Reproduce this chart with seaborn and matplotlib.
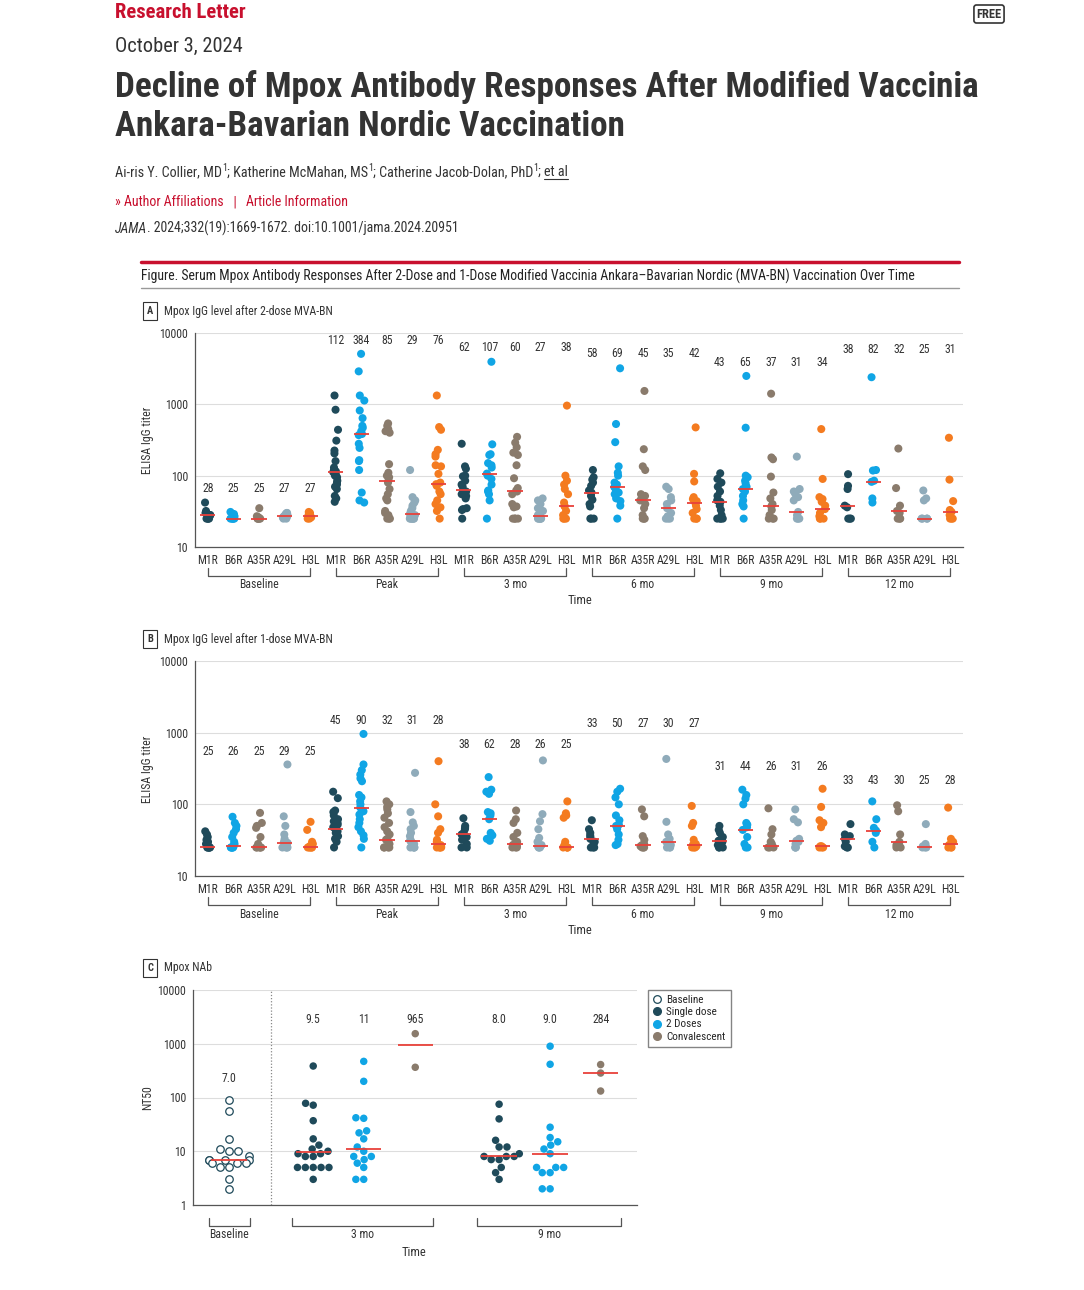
import numpy as np
import pandas as pd
import matplotlib
matplotlib.use("Agg")
import matplotlib.pyplot as plt
import matplotlib.transforms as mtransforms
from matplotlib.lines import Line2D
from matplotlib.ticker import NullLocator
import seaborn as sns

W, H = 1084, 1290
np.random.seed(3)  # only for the small horizontal jitter of the dots

# ---------------- data ----------------
timepoints = ["Baseline", "Peak", "3 mo", "6 mo", "9 mo", "12 mo"]
antigens = ["M1R", "B6R", "A35R", "A29L", "H3L"]
antigen_colors = ["#1f4a5a", "#10a5e5", "#8a7b6c", "#8fabba", "#f47b20"]

# Panel A - 2-dose MVA-BN, ELISA IgG titers (M1R, B6R, A35R, A29L, H3L)
a_baseline = [[25, 25, 25, 25, 28, 28, 30, 32, 42],
              [25, 25, 25, 25, 25, 27, 29, 31],
              [25, 25, 25, 25, 25, 26, 27, 35],
              [25, 25, 26, 27, 27, 28, 29, 30, 30],
              [25, 25, 26, 27, 27, 28, 29, 30, 31]]
a_peak = [[1330, 840, 440, 310, 225, 205, 160, 130, 120, 115, 112, 105, 100, 95, 85, 80, 75, 70, 65, 52, 48, 43],
          [5100, 2900, 1330, 1130, 820, 640, 500, 470, 420, 384, 370, 280, 245, 165, 160, 120, 58, 45, 42],
          [540, 500, 450, 420, 400, 145, 110, 100, 95, 85, 80, 65, 55, 48, 45, 32, 30, 28, 26, 25, 25, 25],
          [120, 50, 45, 42, 38, 35, 32, 30, 29, 28, 27, 26, 25, 25, 25, 25, 25, 25],
          [1330, 480, 440, 230, 200, 185, 140, 135, 106, 80, 76, 72, 60, 55, 45, 40, 36, 32, 25]]
a_3mo = [[280, 135, 125, 100, 98, 85, 75, 70, 62, 60, 55, 52, 48, 35, 34, 33, 25],
         [3950, 275, 200, 195, 150, 140, 130, 107, 100, 90, 75, 62, 60, 55, 45, 25],
         [350, 290, 250, 210, 195, 140, 92, 67, 62, 60, 55, 40, 37, 36, 25, 25, 25, 25],
         [48, 45, 40, 35, 32, 30, 28, 27, 26, 25, 25, 25, 25, 25],
         [960, 100, 85, 75, 65, 55, 42, 38, 37, 32, 28, 25, 25, 25]]
a_6mo = [[120, 95, 88, 80, 72, 62, 58, 52, 46, 40, 37, 25, 25, 25],
         [3200, 530, 295, 135, 110, 100, 80, 75, 69, 64, 58, 55, 48, 44, 38, 25],
         [1540, 235, 135, 120, 55, 52, 45, 40, 35, 28, 25, 25, 25],
         [70, 65, 50, 45, 40, 35, 30, 27, 25, 25, 25],
         [475, 106, 83, 50, 47, 44, 42, 38, 34, 30, 25, 25, 25]]
a_9mo = [[108, 90, 80, 70, 60, 52, 45, 43, 38, 33, 28, 25, 25, 25, 25],
         [2500, 470, 100, 95, 85, 78, 70, 65, 60, 52, 45, 40, 37, 25],
         [1410, 180, 170, 97, 58, 48, 40, 37, 33, 28, 25, 25, 25],
         [185, 65, 60, 55, 50, 45, 31, 28, 25, 25, 25],
         [450, 90, 50, 47, 43, 38, 34, 30, 27, 25, 25, 25]]
a_12mo = [[105, 72, 65, 38, 36, 25, 25, 25],
          [2400, 120, 118, 85, 82, 48, 42],
          [240, 67, 38, 32, 30, 25, 25, 25],
          [62, 48, 45, 25, 25, 25, 25],
          [340, 88, 44, 33, 31, 28, 25, 25, 25]]
a_medians = [28, 25, 25, 27, 27, 112, 384, 85, 29, 76, 62, 107, 60, 27, 38,
             58, 69, 45, 35, 42, 43, 65, 37, 31, 34, 38, 82, 32, 25, 31]

# Panel B - 1-dose MVA-BN
b_baseline = [[42, 38, 35, 32, 30, 28, 27, 26, 25, 25, 25, 25, 25, 25],
              [67, 55, 50, 45, 40, 35, 30, 28, 26, 25, 25, 25, 25, 25],
              [76, 55, 50, 47, 35, 28, 26, 25, 25, 25, 25, 25],
              [360, 68, 50, 38, 33, 30, 29, 27, 25, 25, 25, 25],
              [57, 44, 30, 28, 27, 26, 25, 25, 25, 25, 25]]
b_peak = [[150, 122, 82, 78, 70, 62, 58, 55, 52, 48, 45, 42, 40, 36, 33, 30, 25],
          [960, 360, 300, 260, 230, 210, 135, 125, 110, 100, 90, 80, 72, 62, 55, 48, 42, 37, 33, 25],
          [110, 100, 92, 85, 75, 65, 55, 48, 42, 38, 33, 32, 30, 28, 26, 25, 25, 25, 25],
          [275, 78, 56, 50, 45, 40, 36, 32, 31, 30, 28, 26, 25, 25, 25, 25],
          [400, 100, 68, 45, 40, 32, 30, 28, 27, 26, 25, 25, 25, 25]]
b_3mo = [[64, 50, 47, 45, 40, 38, 35, 32, 28, 25, 25],
         [240, 160, 150, 140, 78, 75, 70, 62, 40, 37, 33, 31],
         [82, 62, 55, 40, 35, 30, 28, 27, 26, 25, 25, 25],
         [410, 73, 58, 45, 34, 30, 27, 26, 25, 25, 25],
         [110, 75, 70, 65, 30, 27, 25, 25, 25, 25]]
b_6mo = [[60, 45, 40, 37, 35, 33, 30, 28, 25, 25, 25],
         [165, 150, 125, 100, 70, 60, 52, 50, 45, 38, 32, 28, 27],
         [85, 68, 36, 32, 28, 27, 26, 25, 25, 25],
         [430, 57, 38, 33, 30, 28, 27, 25, 25, 25],
         [95, 55, 50, 32, 28, 27, 26, 25, 25, 25]]
b_9mo = [[50, 44, 40, 35, 33, 31, 30, 27, 25, 25, 25],
         [160, 135, 120, 100, 55, 52, 48, 44, 35, 28, 25, 25],
         [88, 45, 38, 30, 28, 26, 25, 25, 25],
         [85, 62, 56, 33, 31, 30, 28, 25, 25, 25],
         [165, 92, 60, 55, 48, 26, 26, 25, 25, 25]]
b_12mo = [[53, 38, 36, 33, 30, 26, 25, 25],
          [110, 62, 47, 43, 40, 30, 25],
          [97, 80, 38, 30, 27, 25, 25],
          [53, 28, 26, 25, 25, 25],
          [90, 33, 30, 28, 27, 25, 25, 25]]
b_medians = [25, 26, 25, 29, 25, 45, 90, 32, 31, 28, 38, 62, 28, 26, 25,
             33, 50, 27, 30, 27, 31, 44, 26, 31, 26, 33, 43, 30, 25, 28]

# Panel C - neutralizing antibody NT50
c_groups = ["Baseline", "3 mo Single dose", "3 mo 2 Doses", "3 mo Convalescent",
            "9 mo Single dose", "9 mo 2 Doses", "9 mo Convalescent"]
c_kind = ["Baseline", "Single dose", "2 Doses", "Convalescent",
          "Single dose", "2 Doses", "Convalescent"]
c_values = [[90, 55, 17, 11, 10, 10, 8, 7, 7, 7, 7, 6, 6, 6, 5, 5, 3, 2],
            [385, 78, 72, 37, 17, 13, 11, 10, 9, 9, 8, 8, 5, 5, 5, 5, 5, 3],
            [470, 200, 42, 41, 24, 22, 17, 12, 10, 8, 8, 7, 6, 5, 3, 3],
            [1540, 365],
            [75, 40, 16, 12, 12, 9, 8, 8, 8, 7, 7, 5, 4, 3],
            [900, 415, 28, 18, 15, 13, 11, 9, 5, 5, 5, 4, 4, 2, 2],
            [410, 285, 132]]
c_medians = [7.0, 9.5, 11, 965, 8.0, 9.0, 284]
c_median_text = ["7.0", "9.5", "11", "965", "8.0", "9.0", "284"]
c_kind_colors = {"Baseline": "#1f4a5a", "Single dose": "#1f4a5a",
                 "2 Doses": "#10a5e5", "Convalescent": "#8a7b6c"}

# layout (label heights in data units, x positions for panel C)
a_label_y = [66, 7800, 6300, 5100, 3900, 5900]
b_label_y = [553, 1500, 690, 1350, 334, 218]
c_pos = [0, 1.67, 2.67, 3.69, 5.35, 6.36, 7.36]
c_label_y = [221, 2770, 2770, 2770, 2770, 2770, 2770]

# ---------------- style ----------------
sns.set_style("white")
plt.rcParams["font.family"] = ["Roboto Condensed", "Liberation Sans Narrow", "Lato", "DejaVu Sans"]
TXT = "#333333"
RED = "#c8102e"
MED = "#e8413a"
AXC = "#555555"

fig = plt.figure(figsize=(W / 100, H / 100), dpi=100)
renderer = fig.canvas.get_renderer()


def ftext(x, y, s, **kw):
    kw.setdefault("va", "center")
    kw.setdefault("color", TXT)
    return fig.text(x / W, 1 - y / H, s, **kw)


def fit(t, width):
    # shrink/grow a text so that it spans the given pixel width
    w = t.get_window_extent(renderer).width
    t.set_fontsize(t.get_fontsize() * width / w)
    return t


def runs(x, y, parts, size, **common):
    # a line made of pieces with different styles, laid out one after another (y = baseline)
    for s, kw in parts:
        opts = dict(common)
        opts.update(kw)
        dy = opts.pop("dy", 0)
        scale = opts.pop("scale", 1)
        t = ftext(x, y + dy, s, fontsize=size * scale, va="baseline", **opts)
        x += t.get_window_extent(renderer).width
    return x


def fline(xs, ys, **kw):
    fig.add_artist(Line2D([x / W for x in xs], [1 - y / H for y in ys], **kw))


def style_axis(ax, ticks, lim):
    ax.set_yscale("log")
    ax.set_ylim(lim)
    ax.set_yticks(ticks)
    ax.set_yticklabels([str(t) for t in ticks])
    ax.yaxis.set_minor_locator(NullLocator())
    ax.grid(axis="y", color="#dddddd", lw=0.8)
    ax.grid(axis="x", visible=False)
    ax.set_axisbelow(True)
    for s in ["top", "right"]:
        ax.spines[s].set_visible(False)
    for s in ["left", "bottom"]:
        ax.spines[s].set_color(AXC)
        ax.spines[s].set_linewidth(0.9)
    ax.tick_params(axis="both", colors=AXC, labelcolor=TXT, labelsize=8.5, length=3, width=0.8, pad=2)
    ax.set_xlabel("")
    ax.set_ylabel("")


def brackets(ax, spans, names, y_top, y_bot, y_lab):
    tr = mtransforms.blended_transform_factory(ax.transData, fig.transFigure)
    for (x0, x1), name in zip(spans, names):
        ax.plot([x0, x0, x1, x1], [1 - y_top / H, 1 - y_bot / H, 1 - y_bot / H, 1 - y_top / H],
                transform=tr, color=AXC, lw=0.9, clip_on=False)
        ax.text((x0 + x1) / 2, 1 - y_lab / H, name, transform=tr, ha="center", va="center",
                fontsize=8.5, color=TXT)


def igg_panel(ax, values, medians, label_y):
    keys, rows = [], []
    for t, groups in zip(timepoints, values):
        for ag, vals in zip(antigens, groups):
            key = f"{t}|{ag}"
            keys.append(key)
            for v in vals:
                rows.append({"key": key, "antigen": ag, "titer": v})
    df = pd.DataFrame(rows)
    sns.stripplot(data=df, x="key", y="titer", hue="antigen", order=keys,
                  hue_order=antigens, palette=antigen_colors, size=5.8, jitter=0.12,
                  log_scale=True, legend=False, linewidth=0, ax=ax, zorder=3)
    style_axis(ax, [10, 100, 1000, 10000], (10, 10000))
    ax.set_xlim(-0.5, len(keys) - 0.5)
    ax.set_xticks(range(len(keys)))
    ax.set_xticklabels(antigens * len(timepoints))
    for i, m in enumerate(medians):
        ax.hlines(m, i - 0.3, i + 0.3, color=MED, lw=1.3, zorder=5)
        ax.text(i, label_y[i // 5], str(m), ha="center", va="center", fontsize=8.5, color=TXT)


# ---------------- header ----------------
fit(ftext(115, 12, "Research Letter", color=RED, fontsize=15, fontweight="bold"), 131)
ftext(989, 14, "FREE", ha="center", fontsize=9, fontweight="bold",
      bbox=dict(boxstyle="round,pad=0.2", fc="white", ec=TXT, lw=1.2))
fit(ftext(115, 46, "October 3, 2024", fontsize=14), 128)
t1 = fit(ftext(115, 87, "Decline of Mpox Antibody Responses After Modified Vaccinia",
               fontsize=25, fontweight="bold"), 865)
ftext(115, 127, "Ankara-Bavarian Nordic Vaccination", fontsize=t1.get_fontsize(), fontweight="bold")

sup = dict(scale=0.7, dy=-5)
xe = runs(115, 176, [("Ai-ris Y. Collier, MD", {}), ("1", sup), ("; Katherine McMahan, MS", {}),
                     ("1", sup), ("; Catherine Jacob-Dolan, PhD", {}), ("1", sup), ("; ", {})],
          size=10.2)
xe2 = runs(xe, 176, [("et al", {})], size=10.2)
fline([xe, xe2], [179, 179], color=TXT, lw=0.8)
runs(115, 206, [("\u00bb ", {}), ("Author Affiliations", {}), ("   |   ", {}),
                ("Article Information", {})], size=10, color=RED)
runs(115, 233, [("JAMA", {"fontstyle": "italic"}),
                (". 2024;332(19):1669-1672. doi:10.1001/jama.2024.20951", {})], size=10)

fline([141, 959], [262, 262], color=RED, lw=2.5)
fit(ftext(141, 276, "Figure. Serum Mpox Antibody Responses After 2-Dose and 1-Dose Modified "
          "Vaccinia Ankara\u2013Bavarian Nordic (MVA-BN) Vaccination Over Time",
          fontsize=9, color="#222222"), 781)
fline([141, 959], [288, 288], color="#999999", lw=1)

for letter, title, y in [("A", "Mpox IgG level after 2-dose MVA-BN", 311),
                         ("B", "Mpox IgG level after 1-dose MVA-BN", 639),
                         ("C", "Mpox NAb", 968)]:
    ftext(150, y, letter, ha="center", fontsize=7.5, fontweight="bold",
          bbox=dict(boxstyle="square,pad=0.4", fc="white", ec=TXT, lw=0.8))
    ftext(164, y, title, fontsize=8.5)

# ---------------- panel A ----------------
axA = fig.add_axes([195 / W, 1 - 547 / H, 768 / W, 214 / H])
igg_panel(axA, [a_baseline, a_peak, a_3mo, a_6mo, a_9mo, a_12mo], a_medians, a_label_y)
brackets(axA, [(5 * j, 5 * j + 4) for j in range(6)], timepoints, 568, 576, 585)
ftext(580, 601, "Time", ha="center", fontsize=9)
ftext(148, 440, "ELISA IgG titer", ha="center", rotation=90, fontsize=8.5)

# ---------------- panel B ----------------
axB = fig.add_axes([195 / W, 1 - 876 / H, 768 / W, 215 / H])
igg_panel(axB, [b_baseline, b_peak, b_3mo, b_6mo, b_9mo, b_12mo], b_medians, b_label_y)
brackets(axB, [(5 * j, 5 * j + 4) for j in range(6)], timepoints, 897, 905, 914)
ftext(580, 930, "Time", ha="center", fontsize=9)
ftext(148, 769, "ELISA IgG titer", ha="center", rotation=90, fontsize=8.5)

# ---------------- panel C ----------------
axC = fig.add_axes([193 / W, 1 - 1205 / H, 444 / W, 215 / H])
rows = []
for g, k, p, vals in zip(c_groups, c_kind, c_pos, c_values):
    for v in vals:
        rows.append({"group": g, "kind": k, "pos": p, "nt50": v})
dfc = pd.DataFrame(rows)
base = dfc[dfc["kind"] == "Baseline"]
rest = dfc[dfc["kind"] != "Baseline"]
sns.swarmplot(data=base, x="pos", y="nt50", native_scale=True, log_scale=(False, True),
              color="white", edgecolor="#1f4a5a", linewidth=0.9, size=5.4,
              warn_thresh=1, ax=axC, zorder=3)
sns.swarmplot(data=rest, x="pos", y="nt50", hue="kind", palette=c_kind_colors,
              native_scale=True, log_scale=(False, True), size=5.4,
              legend=False, warn_thresh=1, ax=axC, zorder=3)
style_axis(axC, [1, 10, 100, 1000, 10000], (1, 10000))
axC.set_xlim(-0.71, 8.08)
axC.set_xticks([])
axC.axvline(0.83, color="#888888", lw=0.9, ls=(0, (1, 1.5)))
for p, m, s, ly in zip(c_pos, c_medians, c_median_text, c_label_y):
    axC.hlines(m, p - 0.35, p + 0.35, color=MED, lw=1.3, zorder=5)
    axC.text(p, ly, s, ha="center", va="center", fontsize=8.5, color=TXT)
brackets(axC, [(c_pos[0] - 0.4, c_pos[0] + 0.42), (c_pos[1] - 0.42, c_pos[3] + 0.35),
               (c_pos[4] - 0.44, c_pos[6] + 0.41)], ["Baseline", "3 mo", "9 mo"], 1218, 1226, 1235)
ftext(414, 1252, "Time", ha="center", fontsize=9)
ftext(148, 1098, "NT50", ha="center", rotation=90, fontsize=8.5)

handles = [Line2D([], [], ls="", marker="o", ms=5.5, mfc="white", mec="#1f4a5a", mew=0.9),
           Line2D([], [], ls="", marker="o", ms=5.5, mfc="#1f4a5a", mec="#1f4a5a"),
           Line2D([], [], ls="", marker="o", ms=5.5, mfc="#10a5e5", mec="#10a5e5"),
           Line2D([], [], ls="", marker="o", ms=5.5, mfc="#8a7b6c", mec="#8a7b6c")]
leg = fig.legend(handles, ["Baseline", "Single dose", "2 Doses", "Convalescent"],
                 loc="upper left", bbox_to_anchor=(648 / W, 1 - 990 / H), frameon=True,
                 fancybox=False, edgecolor="#666666", fontsize=8, handletextpad=0.4,
                 borderpad=0.45, labelspacing=0.2, handlelength=0.8, borderaxespad=0)
leg.get_frame().set_linewidth(1.0)

fig.savefig("out.png", dpi=100, facecolor="white")
